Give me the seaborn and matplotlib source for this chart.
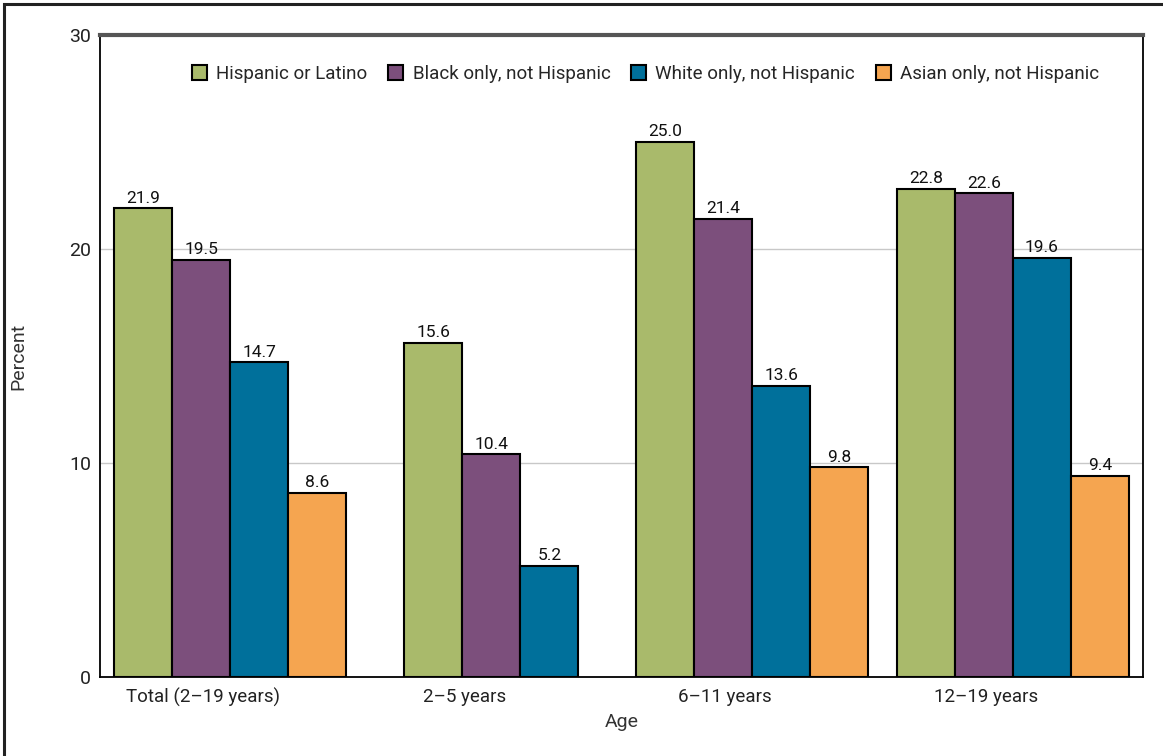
import pandas as pd
import numpy as np
import matplotlib
matplotlib.use('Agg')
import matplotlib.pyplot as plt
import matplotlib.transforms as mtransforms
from matplotlib.patches import Rectangle
import seaborn as sns

#  Data
ages = ['Total (2–19 years)', '2–5 years', '6–11 years', '12–19 years']
groups = ['Hispanic or Latino', 'Black only, not Hispanic',
          'White only, not Hispanic', 'Asian only, not Hispanic']
hispanic = [21.9, 15.6, 25.0, 22.8]
black = [19.5, 10.4, 21.4, 22.6]
white = [14.7, 5.2, 13.6, 19.6]
asian = [8.6, np.nan, 9.8, 9.4]
colors = ['#a9ba6b', '#7c4f7c', '#00709b', '#f5a550']

rows = []
for g, vals in zip(groups, [hispanic, black, white, asian]):
    for a, v in zip(ages, vals):
        if not np.isnan(v):
            rows.append({'Age': a, 'Group': g, 'Percent': v})
df = pd.DataFrame(rows)

sns.set_style('white')
plt.rcParams['font.family'] = ['Roboto', 'DejaVu Sans']

fig = plt.figure(figsize=(11.63, 7.56), dpi=100)
ax = fig.add_axes([0.086, 0.1045, 0.897, 0.8492])

sns.barplot(data=df, x='Age', y='Percent', hue='Group', order=ages,
            hue_order=groups, palette=colors, width=0.89, saturation=1,
            edgecolor='black', linewidth=1.5, ax=ax, zorder=3)

#  2-5 years has no Asian bar: centre the three remaining bars
for cont in ax.containers[:3]:
    p = cont.patches[1]
    p.set_x(p.get_x() + p.get_width() / 2)

for cont in ax.containers:
    ax.bar_label(cont, fmt='%.1f', padding=2, fontsize=12.5, color='#111111')

ax.set_ylim(0, 30)
ax.set_yticks([0, 10, 20, 30])
ax.yaxis.grid(True, color='#c8c8c8', linewidth=1, zorder=0)
ax.set_axisbelow(True)
ax.tick_params(axis='y', labelsize=14, length=3, color='black', labelcolor='#222222')
ax.tick_params(axis='x', labelsize=13.5, length=0, pad=8, labelcolor='#222222')
ax.set_xlabel('Age', fontsize=14, color='#333333', labelpad=4)
ax.set_ylabel('Percent', fontsize=14, color='#333333', labelpad=30)

for s in ['left', 'bottom', 'right']:
    ax.spines[s].set_color('black')
    ax.spines[s].set_linewidth(1.3)
ax.spines['top'].set_color('#555555')
ax.spines['top'].set_linewidth(3)

offset = mtransforms.ScaledTranslation(-0.27, 0, fig.dpi_scale_trans)
for lbl in ax.get_xticklabels():
    lbl.set_transform(lbl.get_transform() + offset)

ax.legend(loc='upper center', bbox_to_anchor=(0.523, 0.98), ncol=4,
          frameon=False, fontsize=13.5, handlelength=0.8, handleheight=0.9,
          handletextpad=0.5, columnspacing=1.1, title=None)

#  outer frame
fig.add_artist(Rectangle((0.0035, -0.1), 1.2, 1.0947, transform=fig.transFigure,
                         fill=False, edgecolor='#222222', linewidth=2.2))

fig.savefig('out.png', dpi=100)
